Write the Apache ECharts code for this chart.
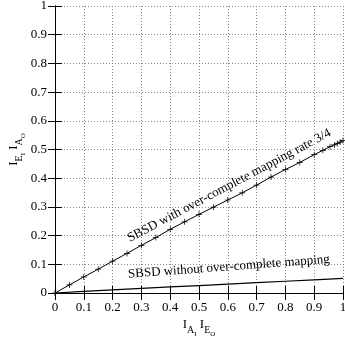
<!DOCTYPE html>
<html>
<head>
<meta charset="utf-8">
<script src="https://cdn.jsdelivr.net/npm/echarts@6/dist/echarts.min.js"></script>
<style>
html,body{margin:0;padding:0;background:#fff;}
#c{width:345px;height:339px;}
</style>
</head>
<body>
<div id="c"></div>
<script>
// Data
const xWith = [0, 0.05, 0.1, 0.15, 0.2, 0.25, 0.3, 0.35, 0.4, 0.45, 0.5, 0.55, 0.6, 0.65, 0.7, 0.75, 0.8, 0.85, 0.9, 0.93, 0.955, 0.97, 0.98, 0.99, 1.0];
const yWith = [0, 0.028, 0.056, 0.083, 0.111, 0.138, 0.166, 0.193, 0.222, 0.248, 0.274, 0.299, 0.324, 0.349, 0.376, 0.404, 0.430, 0.455, 0.482, 0.497, 0.510, 0.516, 0.521, 0.526, 0.531];
const xWithout = [0, 0.1, 0.2, 0.3, 0.4, 0.5, 0.6, 0.7, 0.8, 0.9, 1.0];
const yWithout = [0, 0.006, 0.011, 0.016, 0.021, 0.026, 0.031, 0.036, 0.041, 0.046, 0.051];
const labelWith = 'SBSD with over-complete mapping rate 3/4';
const labelWithout = 'SBSD without over-complete mapping';
const tickLabels = ['0', '0.1', '0.2', '0.3', '0.4', '0.5', '0.6', '0.7', '0.8', '0.9', '1'];

const FONT = '"Liberation Serif", "DejaVu Serif", serif';
const chart = echarts.init(document.getElementById('c'), null, {renderer: 'canvas'});

const nameRich = {
  n: {fontFamily: FONT, fontSize: 13, color: '#000', lineHeight: 13, verticalAlign: 'top', padding: [0, 0, 0, 0]},
  s: {fontFamily: FONT, fontSize: 10, color: '#000', lineHeight: 10, verticalAlign: 'top', padding: [7.5, 0, 0, 0]},
  ss: {fontFamily: FONT, fontSize: 7, color: '#000', lineHeight: 7, verticalAlign: 'top', padding: [12.7, 0, 0, 0]},
  sp: {fontFamily: FONT, fontSize: 13, lineHeight: 13, verticalAlign: 'top'}
};

function fmt(v) {
  const i = Math.round(v * 10);
  return tickLabels[i];
}

const baseAxis = {
  min: 0, max: 1, interval: 0.1,
  axisLine: {show: true, lineStyle: {color: '#000', width: 1}},
  axisTick: {show: true, inside: true, length: 7, lineStyle: {color: '#000', width: 1}},
  splitLine: {show: false}
};

const option = {
  animation: false,
  backgroundColor: '#fff',
  grid: {left: 55, right: 2, top: 6, bottom: 46, containLabel: false, outerBoundsMode: 'none'},
  xAxis: [
    Object.assign({}, baseAxis, {
      type: 'value', position: 'bottom',
      axisLabel: {show: true, margin: 8, fontFamily: FONT, fontSize: 13, color: '#000', formatter: fmt},
      splitLine: {show: true, lineStyle: {color: '#888', type: [1, 2], width: 1}},
      name: '{n|I}{s|A}{ss|I}{sp| }{n|I}{s|E}{ss|O}',
      nameLocation: 'middle', nameGap: 25, nameMoveOverlap: false,
      nameTextStyle: {rich: nameRich}
    }),
    Object.assign({}, baseAxis, {type: 'value', position: 'top', axisLabel: {show: false}})
  ],
  yAxis: [
    Object.assign({}, baseAxis, {
      type: 'value', position: 'left',
      axisLabel: {show: true, margin: 8, fontFamily: FONT, fontSize: 13, color: '#000', formatter: fmt},
      splitLine: {show: true, lineStyle: {color: '#888', type: [1, 2], width: 1}},
      name: '{n|I}{s|E}{ss|I}{sp| }{n|I}{s|A}{ss|O}',
      nameLocation: 'middle', nameGap: 35, nameRotate: 90, nameMoveOverlap: false,
      nameTextStyle: {rich: nameRich}
    }),
    Object.assign({}, baseAxis, {type: 'value', position: 'right', axisLabel: {show: false}})
  ],
  series: [
    {
      type: 'line', name: labelWith,
      data: xWith.map((x, i) => [x, yWith[i]]),
      showSymbol: true,
      symbol: 'path://M4.4,0H5.6V10H4.4ZM0,4.4H10V5.6H0Z',
      symbolSize: 6,
      itemStyle: {color: '#000'},
      lineStyle: {color: '#000', width: 1},
      z: 5
    },
    {
      type: 'line', name: labelWithout,
      data: xWithout.map((x, i) => [x, yWithout[i]]),
      showSymbol: false, symbol: 'none',
      lineStyle: {color: '#000', width: 1.2},
      z: 5
    }
  ]
};
chart.setOption(option);

// Place line captions relative to data positions
const p1 = chart.convertToPixel({gridIndex: 0}, [0.605, 0.374]);
const p2 = chart.convertToPixel({gridIndex: 0}, [0.604, 0.091]);
chart.setOption({
  graphic: [
    {type: 'text', x: p1[0], y: p1[1], rotation: 0.487,
     style: {text: labelWith, fontFamily: FONT, fontSize: 13, fill: '#000', align: 'center', verticalAlign: 'middle'}},
    {type: 'text', x: p2[0], y: p2[1], rotation: 0.074,
     style: {text: labelWithout, fontFamily: FONT, fontSize: 13, fill: '#000', align: 'center', verticalAlign: 'middle'}}
  ]
});
</script>
</body>
</html>
